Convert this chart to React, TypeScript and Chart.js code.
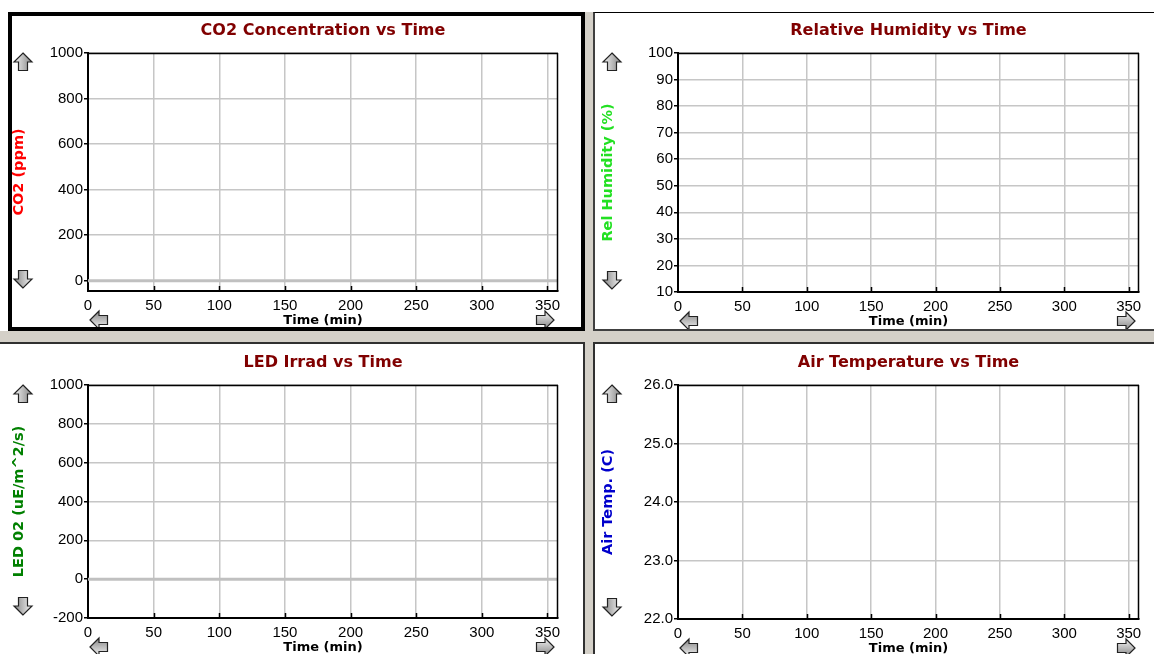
import React, { useEffect, useRef } from "react";
import { Chart, registerables } from "chart.js";

Chart.register(...registerables);

// ---- data ----
const TIME_MIN = [0, 60, 120, 180, 240, 300, 358];
const CO2_PPM = [0, 0, 0, 0, 0, 0, 0];
const REL_HUMIDITY_PCT = [0, 0, 0, 0, 0, 0, 0];
const LED02_IRRAD = [0, 0, 0, 0, 0, 0, 0];
const AIR_TEMP_C = [0, 0, 0, 0, 0, 0, 0];

const X_TICKS = [0, 50, 100, 150, 200, 250, 300, 350];
const X_MIN = 0;
const X_MAX = 358;
const CO2_TICKS = [0, 200, 400, 600, 800, 1000];
const RH_TICKS = [10, 20, 30, 40, 50, 60, 70, 80, 90, 100];
const LED_TICKS = [-200, 0, 200, 400, 600, 800, 1000];
const TEMP_TICKS = [22, 23, 24, 25, 26];

const CHART_TITLES = [
  "CO2 Concentration vs Time",
  "Relative Humidity vs Time",
  "LED Irrad vs Time",
  "Air Temperature vs Time",
];
const Y_TITLES = ["CO2 (ppm)", "Rel Humidity (%)", "LED 02 (uE/m^2/s)", "Air Temp. (C)"];
const X_TITLE = "Time (min)";

// ---- layout / style ----
type Box = { left: number; top: number; width: number; height: number };
type Plot = { left: number; right: number; top: number; bottom: number };
type PanelCfg = {
  title: string;
  yTitle: string;
  yColor: string;
  values: number[];
  yTicks: number[];
  yMin: number;
  yMax: number;
  decimals: number;
  canvas: Box;
  plot: Plot;
  yTitleX: number;
  arrowX: number;
};

const PANELS: PanelCfg[] = [
  {
    title: CHART_TITLES[0], yTitle: Y_TITLES[0], yColor: "#ff0000", values: CO2_PPM,
    yTicks: CO2_TICKS, yMin: -45, yMax: 1000, decimals: 0,
    canvas: { left: 12, top: 16, width: 569, height: 311 },
    plot: { left: 88, right: 558, top: 53, bottom: 291 },
    yTitleX: 19, arrowX: 23,
  },
  {
    title: CHART_TITLES[1], yTitle: Y_TITLES[1], yColor: "#22e022", values: REL_HUMIDITY_PCT,
    yTicks: RH_TICKS, yMin: 10, yMax: 100, decimals: 0,
    canvas: { left: 596, top: 14, width: 558, height: 315 },
    plot: { left: 678, right: 1139, top: 53, bottom: 292 },
    yTitleX: 608, arrowX: 612,
  },
  {
    title: CHART_TITLES[2], yTitle: Y_TITLES[2], yColor: "#008000", values: LED02_IRRAD,
    yTicks: LED_TICKS, yMin: -200, yMax: 1000, decimals: 0,
    canvas: { left: 0, top: 344, width: 583, height: 310 },
    plot: { left: 88, right: 558, top: 385, bottom: 618 },
    yTitleX: 19, arrowX: 23,
  },
  {
    title: CHART_TITLES[3], yTitle: Y_TITLES[3], yColor: "#0000cc", values: AIR_TEMP_C,
    yTicks: TEMP_TICKS, yMin: 22, yMax: 26, decimals: 1,
    canvas: { left: 596, top: 344, width: 558, height: 310 },
    plot: { left: 678, right: 1139, top: 385, bottom: 619 },
    yTitleX: 608, arrowX: 612,
  },
];

const TICK_FONT = { family: '"Liberation Sans", Arial, sans-serif', size: 15 };
const BOLD_FAMILY = '"DejaVu Sans", Verdana, sans-serif';
const GRID_COLOR = "#c6c6c6";

function drawArrow(ctx: CanvasRenderingContext2D, cx: number, cy: number, angle: number) {
  ctx.save();
  ctx.translate(cx, cy);
  ctx.rotate(angle);
  ctx.beginPath();
  ctx.moveTo(0, -9);
  ctx.lineTo(9, 0);
  ctx.lineTo(4.5, 0);
  ctx.lineTo(4.5, 8.5);
  ctx.lineTo(-4.5, 8.5);
  ctx.lineTo(-4.5, 0);
  ctx.lineTo(-9, 0);
  ctx.closePath();
  const g = ctx.createLinearGradient(-9, 0, 9, 0);
  g.addColorStop(0, "#f4f4f4");
  g.addColorStop(1, "#858585");
  ctx.fillStyle = g;
  ctx.fill();
  ctx.lineWidth = 1.2;
  ctx.strokeStyle = "#222";
  ctx.stroke();
  ctx.restore();
}

function makeDecor(cfg: PanelCfg) {
  return {
    id: "decor",
    afterDraw(chart: any) {
      const { ctx, chartArea: a } = chart;
      const ox = cfg.canvas.left;
      const cx = (a.left + a.right) / 2;
      ctx.save();
      // frame top & right
      ctx.strokeStyle = "#000";
      ctx.lineWidth = 1.5;
      ctx.beginPath();
      ctx.moveTo(a.left, a.top + 0.5);
      ctx.lineTo(a.right, a.top + 0.5);
      ctx.moveTo(a.right - 0.5, a.top);
      ctx.lineTo(a.right - 0.5, a.bottom);
      ctx.stroke();
      // inward x ticks
      const xs = chart.scales.x;
      ctx.lineWidth = 1.5;
      ctx.beginPath();
      X_TICKS.forEach((v) => {
        if (v === X_MIN) return;
        const px = Math.round(xs.getPixelForValue(v)) + 0.5;
        ctx.moveTo(px, a.bottom);
        ctx.lineTo(px, a.bottom - 5);
      });
      ctx.stroke();
      // title
      ctx.fillStyle = "#800000";
      ctx.font = `bold 16px ${BOLD_FAMILY}`;
      ctx.textAlign = "center";
      ctx.textBaseline = "middle";
      ctx.fillText(cfg.title, cx, a.top - 22);
      // x title
      ctx.fillStyle = "#000";
      ctx.font = `bold 13px ${BOLD_FAMILY}`;
      ctx.fillText(X_TITLE, cx, a.bottom + 30);
      // y title
      ctx.save();
      ctx.translate(cfg.yTitleX - ox, (a.top + a.bottom) / 2);
      ctx.rotate(-Math.PI / 2);
      ctx.fillStyle = cfg.yColor;
      ctx.font = `bold 14.5px ${BOLD_FAMILY}`;
      ctx.fillText(cfg.yTitle, 0, 0);
      ctx.restore();
      // arrows
      const ax = cfg.arrowX - ox;
      drawArrow(ctx, ax, a.top + 9, 0);
      drawArrow(ctx, ax, a.bottom - 12, Math.PI);
      drawArrow(ctx, a.left + 11, a.bottom + 29, -Math.PI / 2);
      drawArrow(ctx, a.right - 13, a.bottom + 29, Math.PI / 2);
      ctx.restore();
    },
  };
}

function Panel({ cfg }: { cfg: PanelCfg }) {
  const ref = useRef<HTMLCanvasElement>(null);
  const c = cfg.canvas;
  const pl = cfg.plot;
  useEffect(() => {
    const chart = new Chart(ref.current as HTMLCanvasElement, {
      type: "line",
      data: {
        datasets: [
          {
            data: TIME_MIN.map((t, i) => ({ x: t, y: cfg.values[i] })),
            borderColor: "#c0c0c0",
            borderWidth: 3,
            pointRadius: 0,
            fill: false,
          },
        ],
      },
      options: {
        animation: false,
        responsive: false,
        maintainAspectRatio: false,
        events: [],
        layout: {
          padding: { left: 0, top: pl.top - c.top, right: c.left + c.width - pl.right, bottom: 0 },
        },
        plugins: { legend: { display: false }, tooltip: { enabled: false }, title: { display: false } },
        scales: {
          x: {
            type: "linear",
            min: X_MIN,
            max: X_MAX,
            afterBuildTicks: (s: any) => {
              s.ticks = X_TICKS.map((v) => ({ value: v }));
            },
            afterFit: (s: any) => {
              s.height = c.top + c.height - pl.bottom;
            },
            grid: { color: GRID_COLOR, lineWidth: 1.5, drawTicks: false },
            border: { display: true, color: "#000", width: 2 },
            ticks: { font: TICK_FONT, color: "#000", padding: 6, maxRotation: 0, autoSkip: false },
          },
          y: {
            type: "linear",
            min: cfg.yMin,
            max: cfg.yMax,
            afterBuildTicks: (s: any) => {
              s.ticks = cfg.yTicks.map((v) => ({ value: v }));
            },
            afterFit: (s: any) => {
              s.width = pl.left - c.left;
            },
            grid: { color: GRID_COLOR, lineWidth: 1.5, drawTicks: true, tickColor: "#000", tickLength: 4 },
            border: { display: true, color: "#000", width: 2 },
            ticks: {
              font: TICK_FONT,
              color: "#000",
              padding: 1,
              autoSkip: false,
              callback: (v: any) => Number(v).toFixed(cfg.decimals),
            },
          },
        },
      } as any,
      plugins: [makeDecor(cfg) as any],
    });
    return () => chart.destroy();
  }, []);
  return (
    <canvas
      ref={ref}
      width={c.width}
      height={c.height}
      style={{ position: "absolute", left: c.left, top: c.top, width: c.width, height: c.height, zIndex: 2 }}
    />
  );
}

export default function App() {
  const abs = (s: React.CSSProperties): React.CSSProperties => ({ position: "absolute", boxSizing: "border-box", ...s });
  return (
    <div style={{ position: "absolute", left: 0, top: 0, width: 1154, height: 654, background: "#fff", overflow: "hidden" }}>
      <div style={abs({ left: 0, top: 331, width: 1154, height: 12, background: "#d4d0c8" })} />
      <div style={abs({ left: 584, top: 12, width: 10, height: 642, background: "#d4d0c8" })} />
      <div style={abs({ left: 8, top: 12, width: 577, height: 319, border: "4px solid #000", background: "#fff" })} />
      <div
        style={abs({
          left: 593, top: 12, width: 561, height: 319, background: "#fff",
          borderTop: "1px solid #000", borderLeft: "2px solid #404040", borderBottom: "2px solid #404040",
        })}
      />
      <div
        style={abs({
          left: 0, top: 342, width: 585, height: 312, background: "#fff",
          borderTop: "2px solid #303030", borderRight: "2px solid #303030",
        })}
      />
      <div
        style={abs({
          left: 593, top: 342, width: 561, height: 312, background: "#fff",
          borderTop: "2px solid #303030", borderLeft: "2px solid #303030",
        })}
      />
      {PANELS.map((p, i) => (
        <Panel key={i} cfg={p} />
      ))}
    </div>
  );
}
